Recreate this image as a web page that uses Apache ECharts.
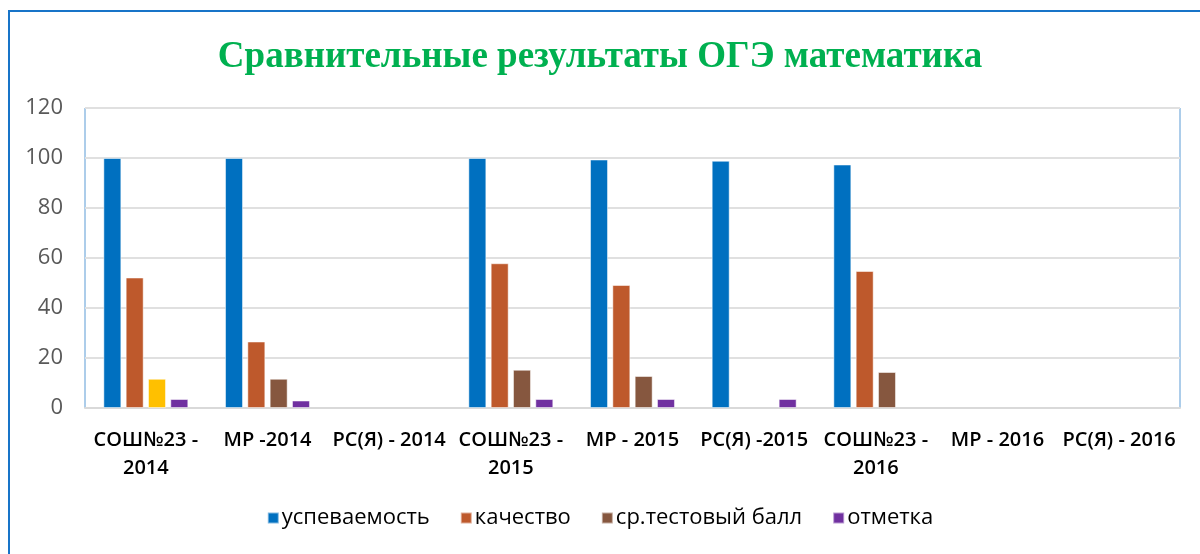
<!DOCTYPE html>
<html>
<head>
<meta charset="utf-8">
<script src="https://cdn.jsdelivr.net/npm/echarts@6/dist/echarts.min.js"></script>
<style>
html, body { margin: 0; padding: 0; background: #fff; }
#chart { width: 1200px; height: 554px; }
</style>
</head>
<body>
<div id="chart"></div>
<script>
// данные
var categories = ['СОШ№23 - 2014', 'МР -2014', 'РС(Я) - 2014', 'СОШ№23 - 2015', 'МР - 2015',
    'РС(Я) -2015', 'СОШ№23 - 2016', 'МР - 2016', 'РС(Я) - 2016'];
var uspevaemost = [100, 100, null, 100, 99.4, 98.9, 97.4, null, null];
var kachestvo = [52.2, 26.6, null, 57.9, 49.2, null, 54.8, null, null];
var testBall = [11.7, 11.7, null, 15.3, 12.8, null, 14.4, null, null];
var otmetka = [3.6, 3.0, null, 3.6, 3.6, 3.6, null, null, null];
var yTicks = [0, 20, 40, 60, 80, 100, 120];

var myChart = echarts.init(document.getElementById('chart'));

function bar(name, values, color) {
    return {
        name: name,
        type: 'bar',
        barWidth: 18,
        barGap: '24%',
        itemStyle: {color: color, borderColor: 'rgba(255,255,255,0.5)', borderWidth: 1},
        data: values
    };
}

// в первой группе столбик ср. балла в Excel перекрашен в жёлтый
var ballSeries = bar('ср.тестовый балл', testBall.map(function (v, i) {
    return i === 0 ? {value: v, itemStyle: {color: '#FFC000'}} : v;
}), '#86573F');

myChart.setOption({
    animation: false,
    backgroundColor: '#fff',
    title: {
        text: 'Сравнительные результаты ОГЭ математика',
        left: 'center',
        top: 34,
        padding: [5, 0, 5, 14],
        textStyle: {
            fontFamily: 'Liberation Serif',
            fontWeight: 'bold',
            fontSize: 37,
            color: '#00B050'
        }
    },
    graphic: [{
        type: 'rect',
        shape: {x: 9, y: 11, width: 1220, height: 600},
        style: {fill: 'none', stroke: '#1874C8', lineWidth: 2},
        silent: true
    }],
    legend: {
        bottom: 20,
        left: 'center',
        itemWidth: 11,
        itemHeight: 11,
        itemGap: 30,
        icon: 'rect',
        textStyle: {fontFamily: 'Open Sans', fontSize: 22, color: '#000', padding: [0, 0, 0, -2]},
        data: ['успеваемость', 'качество', 'ср.тестовый балл', 'отметка']
    },
    grid: {
        left: 85,
        top: 108,
        right: 20,
        bottom: 146,
        show: true,
        borderColor: '#5B9BD5',
        borderWidth: 1
    },
    xAxis: [{
        type: 'category',
        data: categories,
        axisLine: {lineStyle: {color: '#D9D9D9', width: 2}},
        axisTick: {show: false},
        axisLabel: {
            interval: 0,
            margin: 18,
            fontFamily: 'Open Sans',
            fontWeight: 600,
            fontSize: 20,
            lineHeight: 28,
            color: '#000',
            formatter: function (v) { return v.replace('СОШ№23 - ', 'СОШ№23 -\n'); }
        }
    }],
    yAxis: [{
        type: 'value',
        min: yTicks[0],
        max: yTicks[yTicks.length - 1],
        interval: 20,
        axisLine: {show: false},
        axisTick: {show: false},
        splitLine: {lineStyle: {color: '#E0E0E0', width: 2}},
        axisLabel: {
            margin: 22,
            fontFamily: 'Open Sans',
            fontSize: 22,
            color: '#595959'
        }
    }],
    series: [
        bar('успеваемость', uspevaemost, '#0070C0'),
        bar('качество', kachestvo, '#BE592C'),
        ballSeries,
        bar('отметка', otmetka, '#7030A0')
    ]
});
</script>
</body>
</html>
